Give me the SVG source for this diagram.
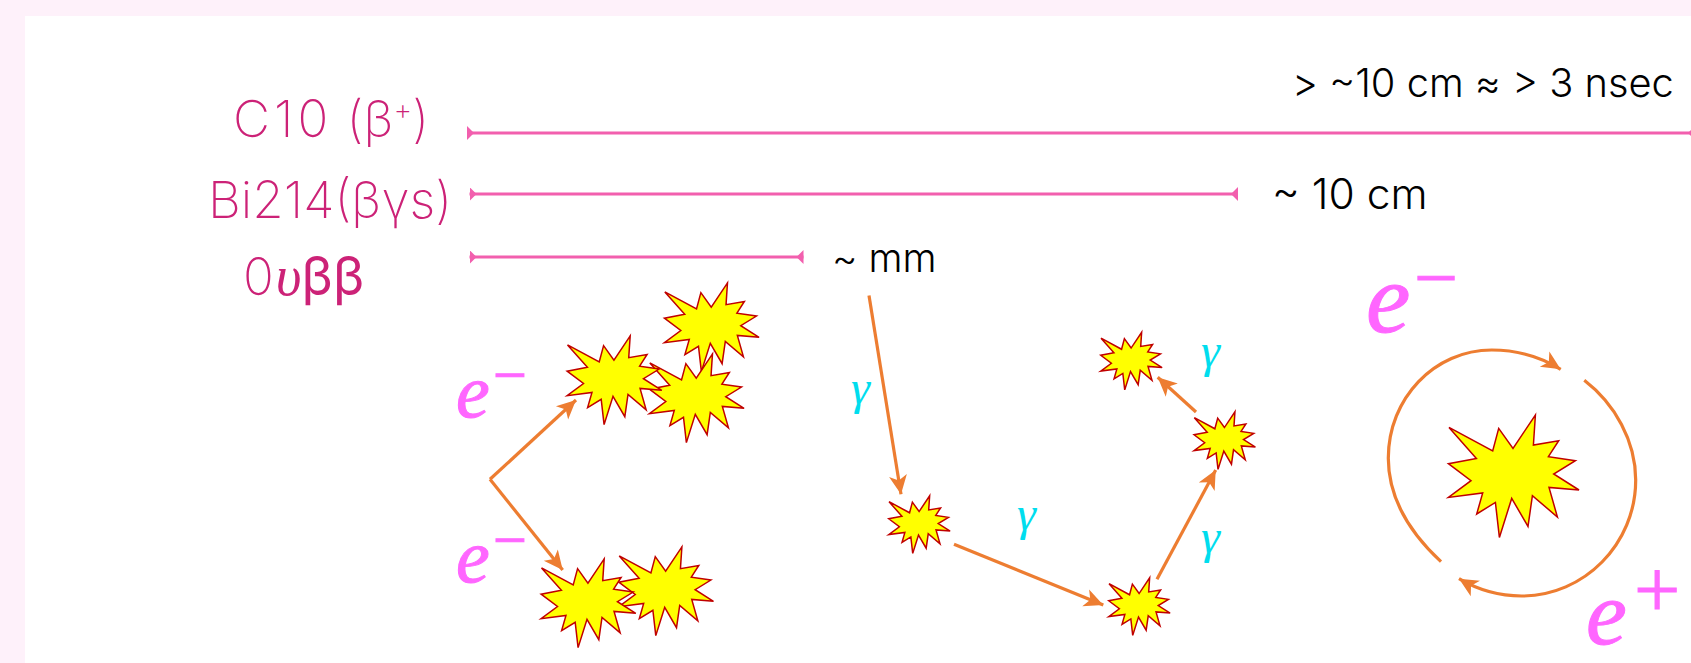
<svg xmlns="http://www.w3.org/2000/svg" width="1691" height="663" viewBox="0 0 1691 663">
<style>
.bg{fill:#FEF1FA}
.sheet{fill:#fff}
.label{font-family:Inter,"Liberation Sans",sans-serif;font-weight:250;fill:#CC2277;font-size:51px}
.note{font-family:Inter,"Liberation Sans",sans-serif;font-weight:300;fill:#000}
.span{stroke:#F25FAE;stroke-width:3;fill:none}
.ray{stroke:#ED7D31;stroke-width:3.2;fill:none;marker-end:url(#head)}
#star{fill:#FF0;stroke:#C00000;stroke-width:1.5;stroke-linejoin:miter;vector-effect:non-scaling-stroke}
.charge{font-family:"Liberation Serif",serif;font-style:italic;fill:#FF66FF;stroke:#FF66FF;stroke-width:1}
.gamma{font-family:"Liberation Serif",serif;font-style:italic;fill:#00DDEE;font-size:48px}
</style>
<defs>
<marker id="head" markerUnits="userSpaceOnUse" markerWidth="22" markerHeight="22" viewBox="0 0 22 22" refX="20" refY="11" orient="auto">
<path d="M20,11 L1,2 L6,11 L1,20 Z" fill="#ED7D31"/>
</marker>
<marker id="tickStart" markerUnits="userSpaceOnUse" markerWidth="8" markerHeight="16" viewBox="0 0 8 16" refX="0" refY="8" orient="auto">
<path d="M0,1 L7,8 L0,15 Z" fill="#F25FAE"/>
</marker>
<marker id="tickEnd" markerUnits="userSpaceOnUse" markerWidth="8" markerHeight="16" viewBox="0 0 8 16" refX="8" refY="8" orient="auto">
<path d="M8,1 L1,8 L8,15 Z" fill="#F25FAE"/>
</marker>
<polygon id="star" points="-62.7,-44.3 -19,-20.7 -13,-43.3 1.3,-23.3 23.7,-56.7 21.7,-26.7 47,-31 36.7,-15 63.7,-11 42,2.3 67.3,18.3 37.3,15.7 45.7,45.3 20.7,24 16.3,54.7 0,26.7 -12.3,65.7 -16.3,30.7 -35,42.3 -29,21.3 -63.3,25.7 -40.7,9 -63.3,-8 -35.3,-13.3"/>
</defs>

<rect class="bg" width="1691" height="663"/>
<rect class="sheet" x="25" y="16" width="1666" height="647"/>

<g id="labels">
<text class="label" x="233" y="137"><tspan letter-spacing="4">C10</tspan> (β<tspan font-size="29" dy="-17">+</tspan><tspan dy="17">)</tspan></text>
<text class="label" x="208" y="218">Bi214(βγs)</text>
<text class="label" x="243" y="295">0<tspan font-family="Liberation Serif" font-style="italic" font-size="56" dx="2">υ</tspan><tspan font-weight="400" font-size="53">ββ</tspan></text>
<text class="note" x="1292" y="97" font-size="39.8">&gt; ~10 cm ≈ &gt; 3 nsec</text>
<text class="note" x="1272" y="209" font-size="42.5">~ 10 cm</text>
<text class="note" x="832" y="272" font-size="39">~ mm</text>
</g>

<g id="connectors">
<line class="span" x1="467" y1="133" x2="1695" y2="133" marker-start="url(#tickStart)" marker-end="url(#tickEnd)"/>
<line class="span" x1="469.5" y1="194" x2="1238" y2="194" marker-start="url(#tickStart)" marker-end="url(#tickEnd)"/>
<line class="span" x1="469.5" y1="257" x2="803.5" y2="257" marker-start="url(#tickStart)" marker-end="url(#tickEnd)"/>
<line class="ray" x1="490" y1="479.3" x2="576" y2="400"/>
<line class="ray" x1="490" y1="479.3" x2="562.7" y2="570"/>
<line class="ray" x1="869" y1="295.5" x2="901" y2="494.3"/>
<line class="ray" x1="954" y1="544.3" x2="1103.3" y2="605"/>
<line class="ray" x1="1157" y1="579.3" x2="1215.7" y2="470"/>
<line class="ray" x1="1196" y1="412" x2="1157.7" y2="377.3"/>
<path class="ray" d="M1441,561.7 C1407,530 1388.3,497 1388.3,458.3 C1388.3,398 1434.6,350 1491.7,350 C1517,350 1541,357 1560.7,369.3"/>
<path class="ray" d="M1584.3,380.3 C1615,404 1635.7,441 1635.7,480 C1635.7,544 1584,596 1521.7,596 C1499,596 1478,590 1459,578.7"/>
</g>

<g id="burst-1"><use href="#star" transform="translate(710.3,324) scale(.725)"/></g>
<g id="burst-2"><use href="#star" transform="translate(695.3,395) scale(.725)"/></g>
<g id="burst-3"><use href="#star" transform="translate(613,377) scale(.725)"/></g>
<g id="burst-4"><use href="#star" transform="translate(664.7,588) scale(.725)"/></g>
<g id="burst-5"><use href="#star" transform="translate(587,600) scale(.725)"/></g>
<g id="burst-6"><use href="#star" transform="translate(918.5,522.5) scale(.47)"/></g>
<g id="burst-7"><use href="#star" transform="translate(1138.5,604.5) scale(.47)"/></g>
<g id="burst-8"><use href="#star" transform="translate(1223.8,438.5) scale(.47)"/></g>
<g id="burst-9"><use href="#star" transform="translate(1130.5,359) scale(.47)"/></g>
<g id="burst-10"><use href="#star" transform="translate(1511.7,471.7)"/></g>

<g id="charges">
<text class="charge" x="456" y="417" font-size="76">e<tspan x="493" y="395" font-size="60" font-style="normal">−</tspan></text>
<text class="charge" x="456" y="582" font-size="76">e<tspan x="493" y="560" font-size="60" font-style="normal">−</tspan></text>
<text class="charge" x="1366" y="332" font-size="100">e<tspan x="1414" y="304" font-size="78" font-style="normal">−</tspan></text>
<text class="charge" x="1586" y="644" font-size="92" stroke-width="1.5">e<tspan x="1634" y="617" font-size="82" font-style="normal" stroke-width="1">+</tspan></text>
</g>

<g id="gammas">
<text class="gamma" x="851" y="404">γ</text>
<text class="gamma" x="1017" y="530">γ</text>
<text class="gamma" x="1201" y="367">γ</text>
<text class="gamma" x="1201" y="553">γ</text>
</g>
</svg>
